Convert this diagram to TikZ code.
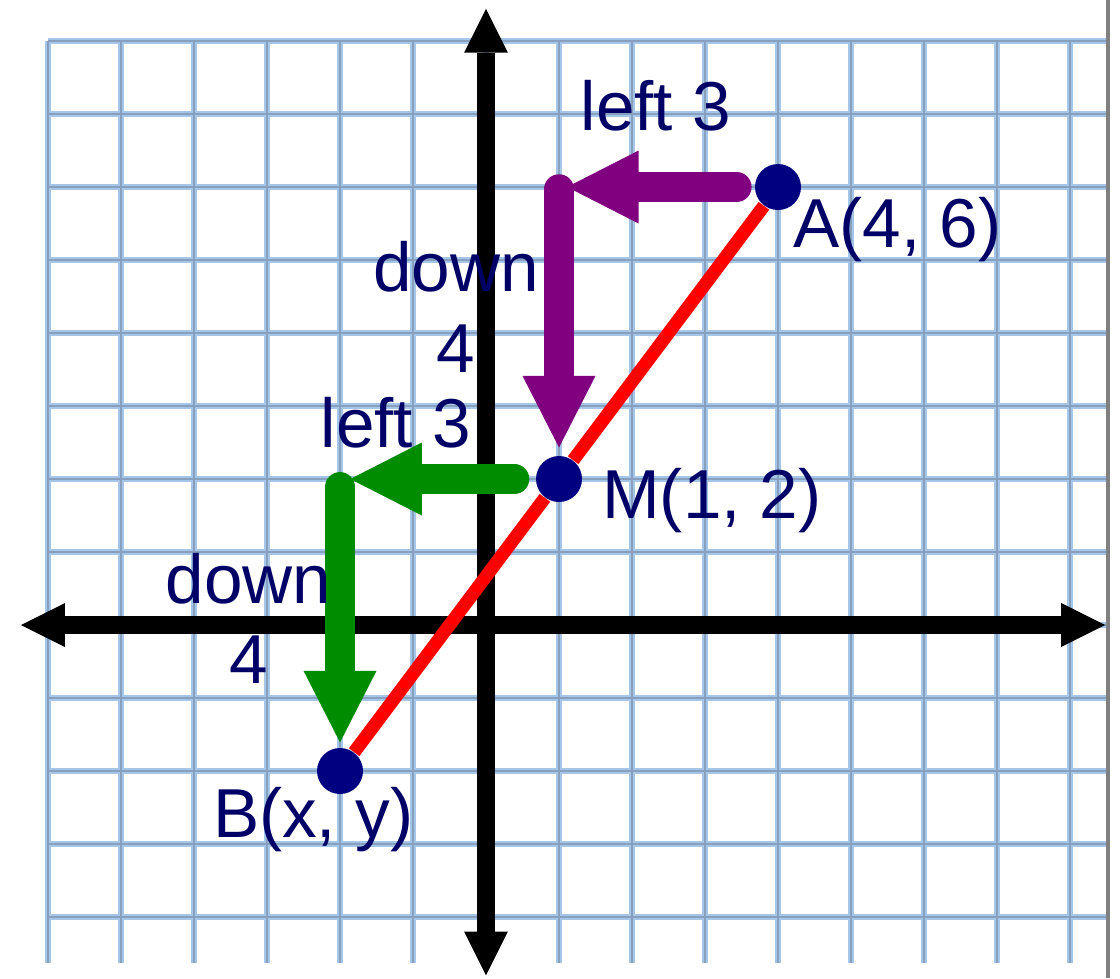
\documentclass[tikz,border=0pt]{standalone}
\usepackage{fontspec}
\setmainfont{Liberation Sans}
\usetikzlibrary{arrows.meta, calc}
\definecolor{dotnavy}{RGB}{0, 0, 128}
\definecolor{labelnavy}{RGB}{0, 0, 102}
\definecolor{gridblue}{RGB}{165, 198, 232}
\definecolor{gridgrey}{RGB}{135, 160, 190}
\definecolor{stepgreen}{RGB}{0, 140, 0}
\definecolor{steppurple}{RGB}{128, 0, 128}
\tikzset{
  point/.style={
    circle,
    fill=dotnavy,
    minimum size=6.3mm,
    inner sep=0pt
  },
  lbl/.style={
    font=\fontsize{27}{31.2}\selectfont,
    text=labelnavy,
    inner sep=0pt,
    anchor=base west
  },
  axis/.style={
    draw=black,
    line width=2.4mm,
    {Triangle[length=6mm, width=6mm, line width=0pt]}-{Triangle[length=6mm, width=6mm, line width=0pt]}
  },
  move/.style={
    line width=4.1mm,
    line cap=round,
    -{Triangle[length=9.8mm, width=10mm, line width=0pt]}
  },
  segment/.style={
    draw=red,
    line width=1.8mm
  }
}

\begin{document}
\begin{tikzpicture}
          \useasboundingbox (-6.658,-4.836) rectangle (8.685,8.562);
          \draw[gridblue, line width=0.8mm] (-6,-4.63) grid (8.52,8);
          \draw[gridgrey, line width=0.3mm] (-6,-4.63) grid (8.52,8);
          \draw[gray, line width=0.5mm] (8.52,-4.836) -- (8.52,8.562);

          \coordinate (xmin) at (-6.37,0);
          \coordinate (xmax) at (8.48,0);
          \coordinate (ymin) at (0,-4.8);
          \coordinate (ymax) at (0,8.44);
          \draw[axis] (xmin) -- (xmax);
          \draw[axis] (ymin) -- (ymax);

          \node[point] (a) at (4, 6) {};
          \node[point] (m) at (1, 2) {};
          \node[point] (b) at (-2, -2) {};

          \draw[segment] (a) -- (m) -- (b);

          \path (a) edge[move, draw=steppurple, shorten <=2.45mm, shorten >=1.1mm] (m |- a)
                (m |- a) edge[move, draw=steppurple, shorten <=0.3mm, shorten >=1.1mm] (m)
                (m) edge[move, draw=stepgreen, shorten <=2.9mm, shorten >=1.4mm] (b |- m)
                (b |- m) edge[move, draw=stepgreen, shorten <=1.1mm, shorten >=0.7mm] (b);

          \node[lbl] (left1) at (1.29, 6.781) {left 3};
          \node[lbl, anchor=base, align=center] (down1) at (-0.41, 3.466) {down\\4};
          \node[lbl] (left2) at (-2.27, 2.438) {left 3};
          \node[lbl, anchor=base, align=center] (down2) at (-3.253, -0.795) {down\\4};
          \node[lbl] (la) at (4.205, 5.178) {A(4, 6)};
          \node[lbl] (lm) at (1.585, 1.466) {M(1, 2)};
          \node[lbl] (lb) at (-3.746, -2.904) {B(x, y)};
        \end{tikzpicture}
\end{document}
